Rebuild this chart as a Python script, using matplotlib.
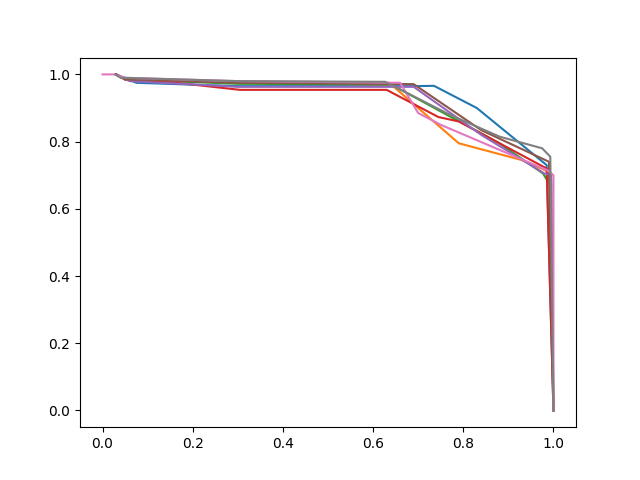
import matplotlib
matplotlib.use("Agg")
import matplotlib.pyplot as plt

# (x, y) points of each curve
blue_x = [0.03, 0.075, 0.30, 0.69, 0.735, 0.83, 0.985, 1.0]
blue_y = [1.0, 0.975, 0.965, 0.965, 0.966, 0.90, 0.73, 0.0]

orange_x = [0.03, 0.05, 0.30, 0.64, 0.79, 0.93, 0.99, 1.0]
orange_y = [1.0, 0.985, 0.975, 0.97, 0.795, 0.745, 0.71, 0.0]

green_x = [0.03, 0.05, 0.30, 0.64, 0.88, 0.977, 0.986, 0.995, 1.0]
green_y = [1.0, 0.985, 0.972, 0.97, 0.795, 0.705, 0.685, 0.68, 0.0]

red_x = [0.03, 0.05, 0.15, 0.305, 0.63, 0.745, 0.79, 0.985, 1.0]
red_y = [1.0, 0.985, 0.977, 0.954, 0.954, 0.873, 0.86, 0.72, 0.0]

purple_x = [0.03, 0.06, 0.30, 0.69, 0.84, 0.98, 0.995, 1.0]
purple_y = [1.0, 0.98, 0.963, 0.963, 0.82, 0.705, 0.70, 0.0]

brown_x = [0.03, 0.05, 0.30, 0.69, 0.84, 0.99, 1.0]
brown_y = [1.0, 0.985, 0.975, 0.971, 0.834, 0.74, 0.0]

pink_x = [0.0, 0.025, 0.05, 0.30, 0.66, 0.70, 0.75, 0.986, 1.0, 1.0]
pink_y = [1.0, 1.0, 0.99, 0.98, 0.975, 0.885, 0.85, 0.715, 0.70, 0.0]

gray_x = [0.028, 0.04, 0.30, 0.627, 0.77, 0.88, 0.975, 0.993, 1.0]
gray_y = [1.0, 0.99, 0.98, 0.978, 0.88, 0.815, 0.78, 0.755, 0.0]

curves = [(blue_x, blue_y), (orange_x, orange_y), (green_x, green_y),
          (red_x, red_y), (purple_x, purple_y), (brown_x, brown_y),
          (pink_x, pink_y), (gray_x, gray_y)]

plt.figure(figsize=(6.4, 4.8), dpi=100)
for xs, ys in curves:
    plt.plot(xs, ys)

plt.savefig("out.png")
